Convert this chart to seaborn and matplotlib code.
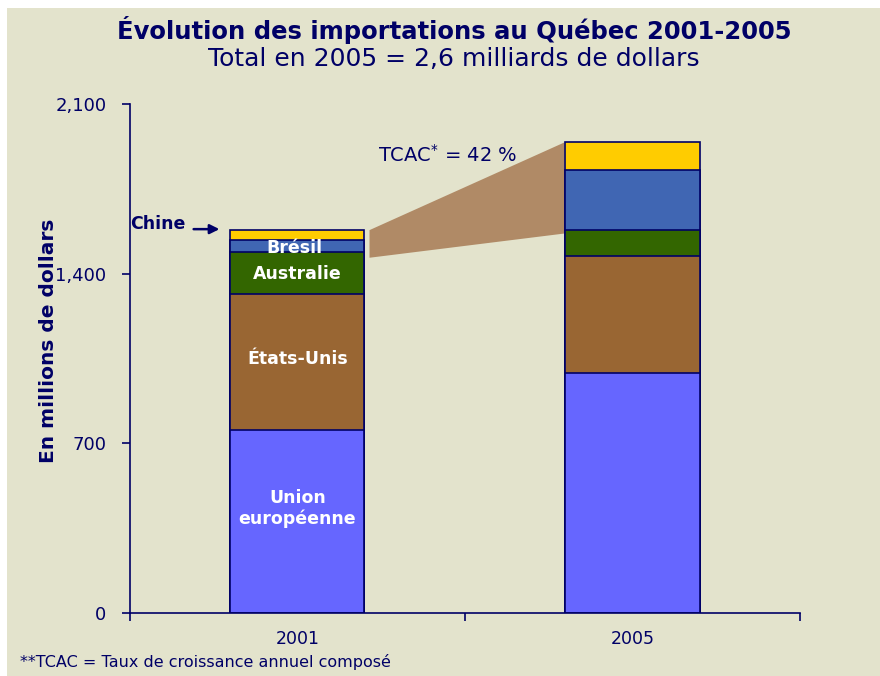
import matplotlib
matplotlib.use("Agg")
import matplotlib.pyplot as plt
from matplotlib.patches import Polygon, Rectangle
import numpy as np
import pandas as pd
import seaborn as sns

# data (millions of dollars)
years = ["2001", "2005"]
regions = ["Union européenne", "États-Unis", "Australie", "Brésil", "Chine"]
union_europeenne = [755, 989]
etats_unis = [561, 484]
australie = [173, 106]
bresil = [50, 251]
chine = [41, 112]

colors = ["#6666FF", "#996633", "#336600", "#4066B3", "#FFCC00"]
navy = "#000066"
bg = "#E3E3CC"

sns.set_style("white")
plt.rcParams["font.family"] = ["DejaVu Sans"]

series = [union_europeenne, etats_unis, australie, bresil, chine]
cum = np.cumsum(np.array(series), axis=0)

fig = plt.figure(figsize=(8.8, 6.76), dpi=100, facecolor="white")
fig.patches.append(Rectangle((0.008, 0), 0.992, 0.988, transform=fig.transFigure,
                             facecolor=bg, edgecolor="none", zorder=-10))
ax = fig.add_axes([0.1477, 0.0932, 0.7614, 0.7528])
ax.set_facecolor(bg)

# stacked bars: draw cumulative totals from the top layer down
for i in range(len(regions) - 1, -1, -1):
    df = pd.DataFrame({"annee": years, "valeur": cum[i]})
    sns.barplot(data=df, x="annee", y="valeur", color=colors[i], width=0.4,
                saturation=1, edgecolor=navy, linewidth=1.2, ax=ax)

total_2001 = cum[-1][0]
total_2005 = cum[-1][1]

# zoom trapezoid between the two bars
trap = Polygon([(0.215, total_2001), (0.797, total_2005),
                (0.797, total_2005 - 376), (0.215, total_2001 - 114)],
               closed=True, facecolor="#B08A66", edgecolor="none", zorder=0.5)
ax.add_patch(trap)

ax.set_xlim(-0.5, 1.5)
ax.set_ylim(0, 2100)
ax.set_yticks([0, 700, 1400, 2100])
ax.set_yticklabels(["0", "700", "1,400", "2,100"])
ax.set_xticks([-0.5, 0.5, 1.5], minor=True)
ax.tick_params(axis="x", which="major", length=0, pad=12, labelsize=12.5, labelcolor=navy)
ax.tick_params(axis="x", which="minor", length=6, width=1.2, color=navy,
               direction="out", bottom=True)
ax.tick_params(axis="y", length=6, width=1.2, color=navy, direction="out",
               labelsize=13, labelcolor=navy, pad=11, left=True)
ax.set_xlabel("")
ax.set_ylabel("En millions de dollars", fontsize=14.5, fontweight="bold", color=navy)
ax.yaxis.set_label_coords(-0.108, 0.535)
for s in ["top", "right"]:
    ax.spines[s].set_visible(False)
for s in ["left", "bottom"]:
    ax.spines[s].set_color(navy)
    ax.spines[s].set_linewidth(1.2)

# labels inside the 2001 bar
lab = dict(color="white", fontweight="bold", fontsize=12.5, ha="center", va="center")
ax.text(0, 430, "Union\neuropéenne", linespacing=1.2, **lab)
ax.text(0, 1050, "États-Unis", **lab)
ax.text(0, 1400, "Australie", **lab)
ax.text(-0.01, 1505, "Brésil", **lab)

ax.text(-0.5, 1605, "Chine", color=navy, fontweight="bold", fontsize=12.5,
        va="center", ha="left")
ax.annotate("", xy=(-0.233, 1584), xytext=(-0.31, 1584),
            arrowprops=dict(arrowstyle="-|>", color=navy, lw=1.8,
                            shrinkA=0, shrinkB=0, mutation_scale=14))
ax.text(0.24, 1890, "TCAC$^{*}$ = 42 %", color=navy, fontsize=14, ha="left", va="center")

fig.text(0.516, 0.955, "Évolution des importations au Québec 2001-2005",
         ha="center", va="center", color=navy, fontsize=17.5, fontweight="bold")
fig.text(0.516, 0.912, "Total en 2005 = 2,6 milliards de dollars",
         ha="center", va="center", color=navy, fontsize=18)
fig.text(0.023, 0.021, "**TCAC = Taux de croissance annuel composé",
         ha="left", va="center", color=navy, fontsize=11.5)

fig.savefig("out.png", dpi=100, facecolor=fig.get_facecolor())
